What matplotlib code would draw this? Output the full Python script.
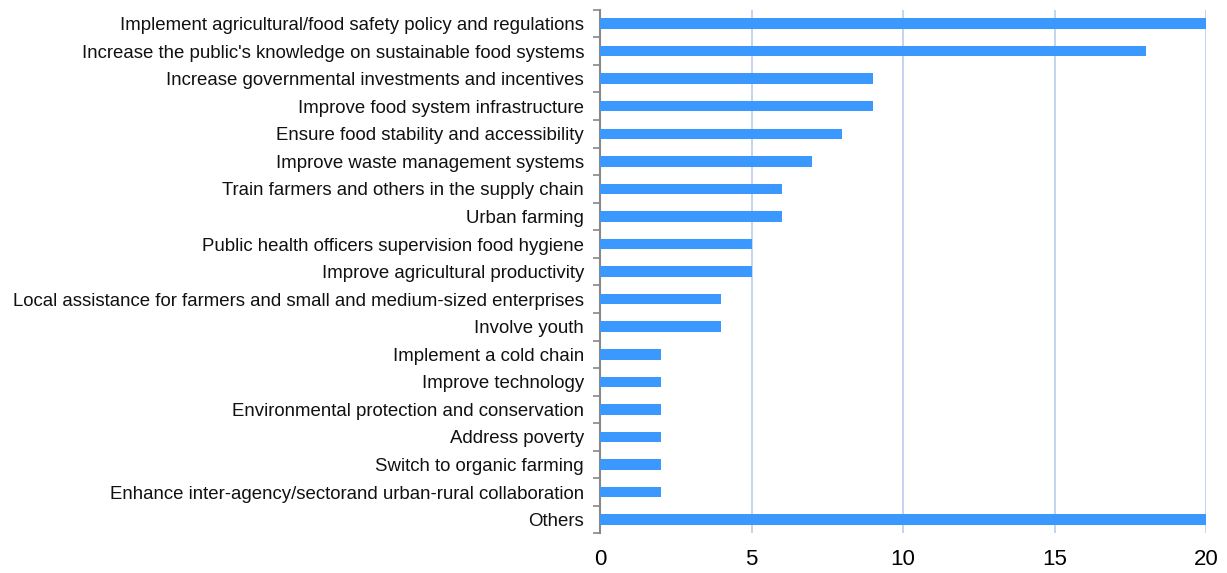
import matplotlib.pyplot as plt
import numpy as np

plt.rcParams['font.family'] = ['Liberation Sans', 'DejaVu Sans']

categories = [
    "Implement agricultural/food safety policy and regulations",
    "Increase the public's knowledge on sustainable food systems",
    "Increase governmental investments and incentives",
    "Improve food system infrastructure",
    "Ensure food stability and accessibility",
    "Improve waste management systems",
    "Train farmers and others in the supply chain",
    "Urban farming",
    "Public health officers supervision food hygiene",
    "Improve agricultural productivity",
    "Local assistance for farmers and small and medium-sized enterprises",
    "Involve youth",
    "Implement a cold chain",
    "Improve technology",
    "Environmental protection and conservation",
    "Address poverty",
    "Switch to organic farming",
    "Enhance inter-agency/sectorand urban-rural collaboration",
    "Others",
]
counts = [20, 18, 9, 9, 8, 7, 6, 6, 5, 5, 4, 4, 2, 2, 2, 2, 2, 2, 20]
x_ticks = [0, 5, 10, 15, 20]

fig = plt.figure(figsize=(12.27, 5.73), dpi=100)
ax = fig.add_axes([0.489, 0.069, 0.494, 0.914])

y = np.arange(len(categories))
ax.barh(y, counts, height=0.38, color="#3a98fe", zorder=3)

ax.set_ylim(len(categories) - 0.5, -0.5)
ax.set_xlim(0, 20)
ax.set_yticks(y)
ax.set_yticklabels(categories, fontsize=13.4, color="#111111")
ax.set_yticks(np.arange(-0.5, len(categories)), minor=True)
ax.tick_params(axis="y", which="major", length=0, pad=11.5)
ax.tick_params(axis="y", which="minor", length=5, width=1.2, color="#888888")

ax.set_xticks(x_ticks)
ax.set_xticklabels([str(t) for t in x_ticks], fontsize=16)
ax.tick_params(axis="x", length=0, pad=11.5)

ax.grid(axis="x", color="#b8cdec", linewidth=1.2, zorder=0)
for side in ["top", "right", "bottom"]:
    ax.spines[side].set_visible(False)
ax.spines["left"].set_color("#888888")
ax.spines["left"].set_linewidth(1.5)

fig.savefig("out.png", dpi=100)
